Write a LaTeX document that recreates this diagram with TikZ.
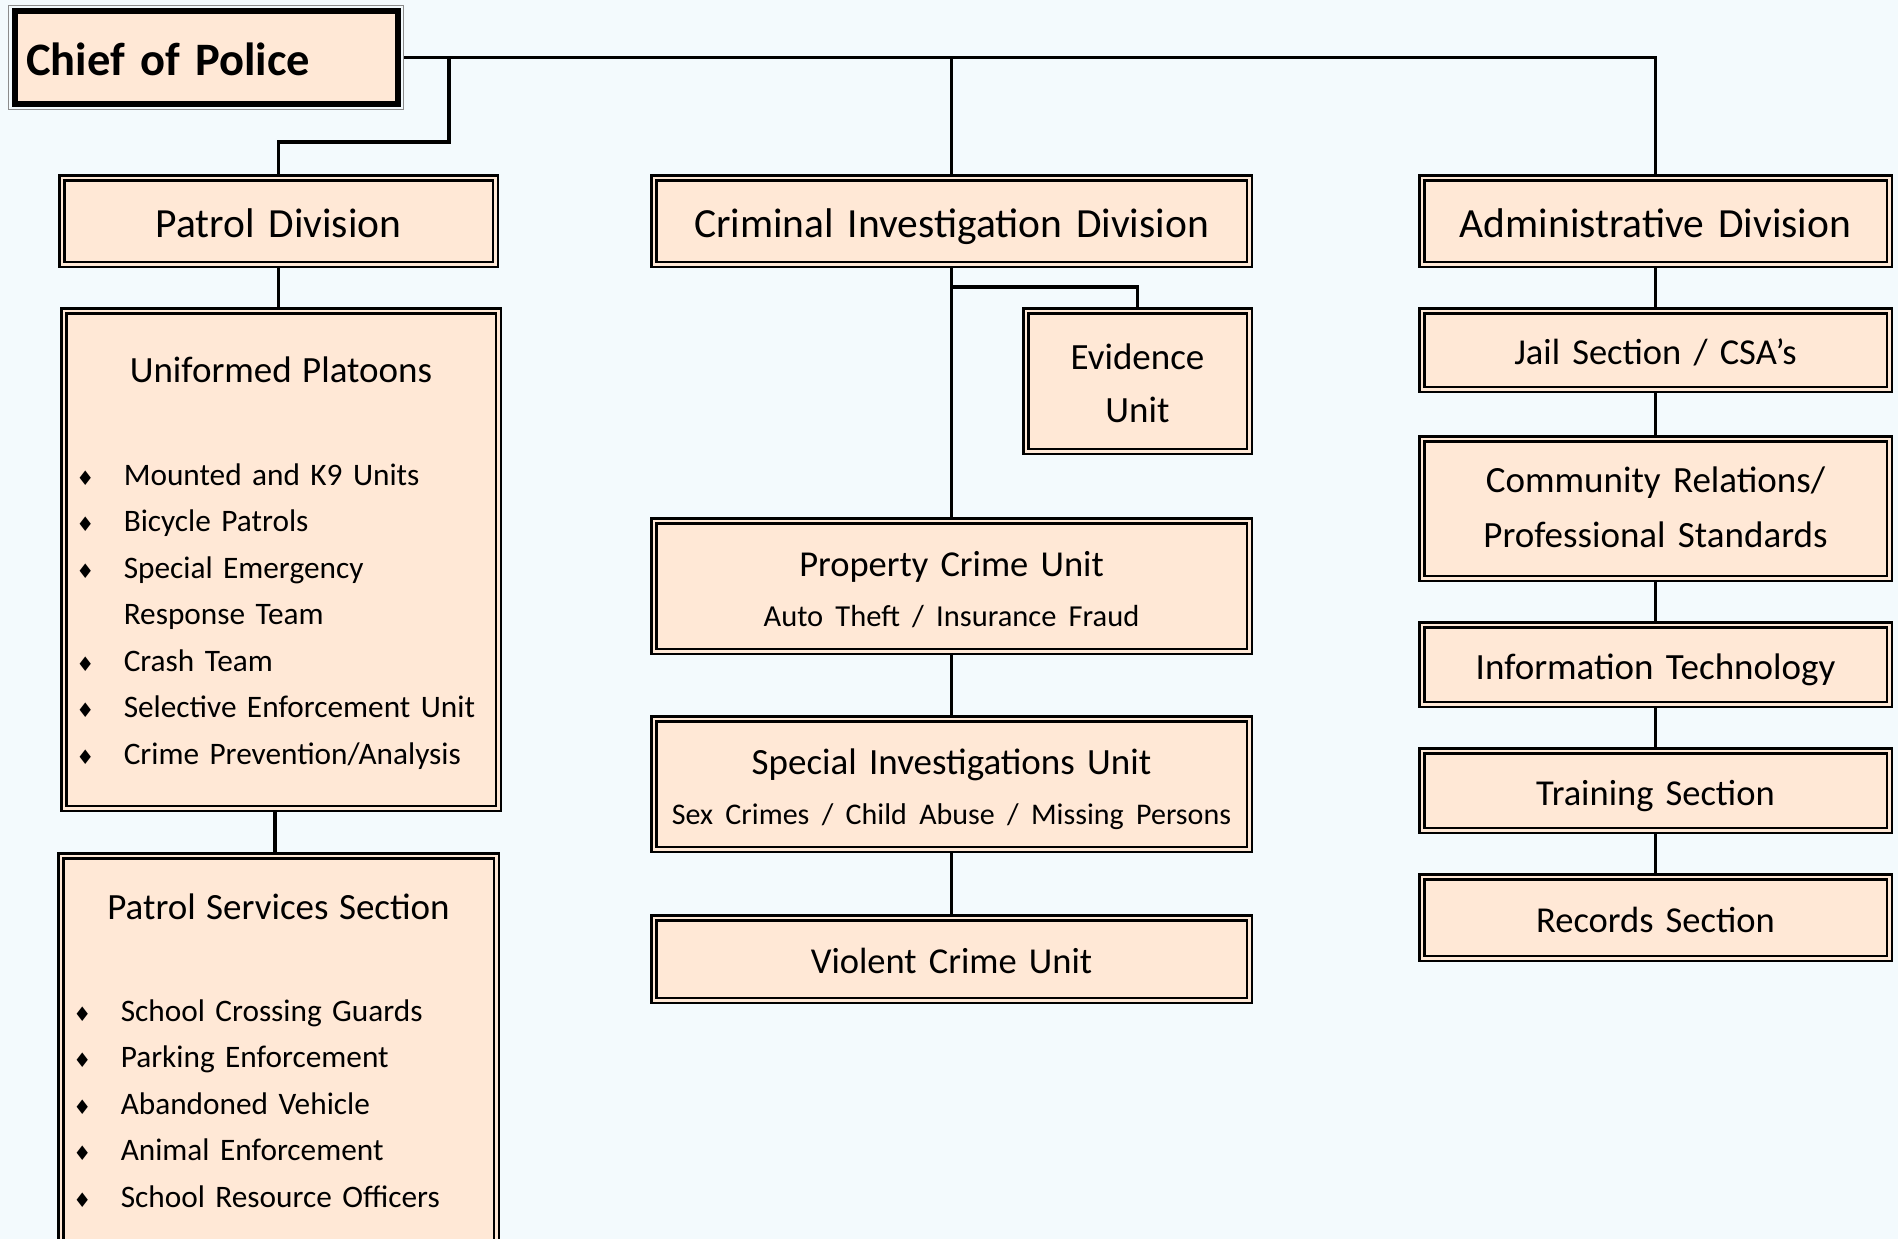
\documentclass[tikz,border=0pt]{standalone}
\usepackage{fontspec}
\setmainfont{Carlito}
\newfontfamily\diafont{DejaVu Sans}
\usetikzlibrary{positioning}
\definecolor{paper}{HTML}{F3FAFD}
\definecolor{peach}{HTML}{FFE8D6}
\newcommand{\dia}{\makebox[47.5pt][l]{\diafont\fontsize{20}{20}\selectfont ♦}}
\newcommand{\nodia}{\makebox[47.5pt][l]{}}
\tikzset{
  unit/.style 2 args={draw=black, line width=2.5pt, double=peach,
    double distance=2.5pt, fill=peach, inner sep=0pt, outer sep=3.75pt,
    minimum width=#1, minimum height=#2, text width=#1, align=center,
    font=\fontsize{36.5}{52}\selectfont, text height=29pt, text depth=0pt},
  division/.style={font=\fontsize{41.5}{50}\selectfont, text height=32pt},
  bullets/.style={align=left, inner xsep=12.5pt,
    font=\fontsize{31.3}{46.5}\selectfont},
  link/.style={line width=3.2pt, draw=black},
}

\begin{document}
\begin{tikzpicture}[x=1pt, y=-1pt]
  \fill[paper] (0,0) rectangle (1898,1239);
  \useasboundingbox (0,0) rectangle (1898,1239);
  \clip (0,0) rectangle (1898,1239);
  % Chief
  \node[fill=peach, draw=black, line width=6pt,
        preaction={draw=black!45, line width=13pt},
        preaction={draw=paper, line width=11pt},
        minimum width=383pt, minimum height=92pt, inner sep=0pt,
        inner xsep=11.5pt, text width=360pt, align=left, outer sep=6.5pt,
        font=\fontsize{46.5}{60}\selectfont\bfseries, text height=37pt, text depth=0pt]
        (chief) at (206,57.5) {Chief of Police};
  % Divisions
  \node[unit={433.5pt}{86.5pt}, division] (patrol) at (278.5,221) {Patrol Division};
  \node[unit={595.5pt}{86.5pt}, division] (cid) at (951.5,221) {Criminal Investigation Division};
  \node[unit={467.5pt}{86.5pt}, division] (admin) at (1655.5,221) {Administrative Division};
  % Patrol branch
  \node[unit={434.5pt}{497.5pt}, bullets, text width=409.5pt,
        text height=71.25pt, text depth=426.25pt]
        (platoons) at (281,559.5) {%
    \makebox[\linewidth]{\fontsize{37}{46.5}\selectfont Uniformed Platoons}\\[56.5pt]
    \dia Mounted and K9 Units\\
    \dia Bicycle Patrols\\
    \dia Special Emergency\\
    \nodia Response Team\\
    \dia Crash Team\\
    \dia Selective Enforcement Unit\\
    \dia Crime Prevention/Analysis};
  \node[unit={435.5pt}{396.5pt}, bullets, text width=410.5pt,
        text height=63.5pt, text depth=333pt]
        (services) at (278.5,1054) {%
    \makebox[\linewidth]{\fontsize{37}{46.5}\selectfont Patrol Services Section}\\[55.5pt]
    \dia School Crossing Guards\\
    \dia Parking Enforcement\\
    \dia Abandoned Vehicle\\
    \dia Animal Enforcement\\
    \dia School Resource Officers};
  % Investigation branch
  \node[unit={223.5pt}{140.5pt}, font=\fontsize{37}{53.5}\selectfont,
        text height=29.5pt, text depth=53.5pt] (evidence) at (1137.5,381) {Evidence\\Unit};
  \node[unit={595.5pt}{130.5pt}, font=\fontsize{36.5}{49.5}\selectfont,
        text height=30.5pt, text depth=49.5pt] (property) at (951.5,586)
        {Property Crime Unit\\{\fontsize{30.5}{49.5}\selectfont Auto Theft / Insurance Fraud}};
  \node[unit={595.5pt}{130.5pt}, font=\fontsize{37}{49.5}\selectfont,
        text height=30.5pt, text depth=49.5pt] (special) at (951.5,784)
        {Special Investigations Unit\\{\fontsize{30}{49.5}\selectfont Sex Crimes / Child Abuse / Missing Persons}};
  \node[unit={595.5pt}{82.5pt}] (violent) at (951.5,959) {Violent Crime Unit};
  % Administrative branch
  \node[unit={467.5pt}{78.5pt}] (jail) at (1655.5,350) {Jail Section / CSA’s};
  \node[unit={467.5pt}{139.5pt}, font=\fontsize{37}{54.5}\selectfont,
        text height=23pt, text depth=54.5pt] (community) at (1655.5,508.5)
        {Community Relations/\\Professional Standards};
  \node[unit={467.5pt}{79.5pt}, font=\fontsize{37}{52}\selectfont] (infotech) at (1655.5,664.5) {Information Technology};
  \node[unit={467.5pt}{79.5pt}] (training) at (1655.5,790.5) {Training Section};
  \node[unit={467.5pt}{81.5pt}] (records) at (1655.5,917.5) {Records Section};
  % Lines
  \coordinate (ptap) at (449,142);
  \coordinate (stap) at (275,832);
  \draw[link] (chief.east) -| (admin.north);
  \draw[link] (chief.east -| cid.north) -- (cid.north);
  \draw[link] (chief.east -| ptap) -- (ptap) -| (patrol.north);
  \draw[link] (patrol.south) -- (patrol.south |- platoons.north);
  \draw[link] (stap |- platoons.south) -- (stap |- services.north);
  \draw[link] (cid.south) -- (property.north);
  \draw[link] (cid.south) ++(0,19) -| (evidence.north);
  \draw[link] (property.south) -- (special.north);
  \draw[link] (special.south) -- (violent.north);
  \foreach \a/\b in {admin/jail, jail/community, community/infotech,
                     infotech/training, training/records}
    \draw[link] (\a.south) -- (\b.north);
\end{tikzpicture}
\end{document}
